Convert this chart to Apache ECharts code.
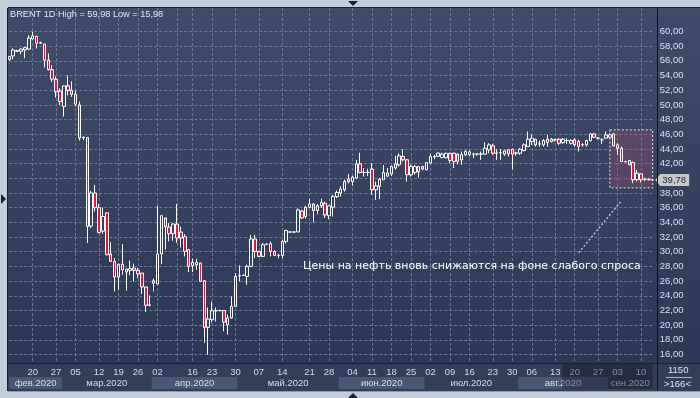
<!DOCTYPE html>
<html>
<head>
<meta charset="utf-8">
<script src="https://cdn.jsdelivr.net/npm/echarts@6/dist/echarts.min.js"></script>
<style>
html,body{margin:0;padding:0;background:#c3cddb;}
#chart{width:700px;height:398px;}
</style>
</head>
<body>
<div id="chart"></div>
<script>
// ---- data ----
const openP  = [56.2,56.67,57.3,57.3,57.5,57.6,59.0,59.35,58.5,58.3,56.1,54.8,53.5,51.9,49.8,52.6,52.0,51.45,50.0,45.5,45.55,33.5,38.0,36.0,32.8,35.3,29.7,28.7,26.56,28.3,27.24,27.46,27.78,27.46,27.1,25.2,22.7,26.05,25.6,29.7,34.6,33.36,32.45,33.77,32.68,32.04,30.27,28.1,28.23,28.46,26.05,19.7,20.75,21.95,21.97,22.0,20.07,20.98,22.56,26.7,26.78,26.64,28.0,31.73,30.04,29.36,31.0,31.1,30.04,29.48,29.5,31.4,32.7,32.68,32.7,35.56,34.8,36.08,36.5,35.62,36.26,36.6,34.9,36.08,37.52,37.99,38.44,39.89,39.56,40.03,41.97,40.78,40.8,41.25,38.44,38.9,39.8,40.3,40.6,41.4,41.84,42.97,42.52,40.48,40.8,40.9,41.6,41.16,42.07,42.9,43.0,42.85,42.8,43.4,43.43,43.3,42.5,43.2,43.6,43.3,43.3,43.3,43.29,43.88,44.42,43.42,43.5,43.29,43.88,43.97,43.42,43.42,43.79,44.33,45.01,45.33,44.69,44.56,45.33,45.01,45.24,45.33,44.88,45.15,44.78,45.24,45.01,44.56,44.56,45.15,46.05,45.47,45.24,45.47,45.6,46.05,44.56,44.1,42.29,42.43,42.15,39.8,40.61,39.89,39.85,39.8];
const closeP = [56.6,57.48,57.4,57.6,57.8,59.1,59.4,58.4,58.4,56.1,54.8,53.5,51.8,50.45,52.6,51.95,51.45,50.1,45.5,45.6,33.44,38.0,36.0,32.6,34.8,29.6,28.7,26.56,28.3,27.5,27.64,27.7,27.46,26.97,25.2,22.7,22.75,25.7,29.7,34.9,33.4,32.45,33.77,31.86,31.86,30.04,28.0,28.55,28.55,25.96,19.7,20.84,21.97,21.97,22.0,20.4,20.98,22.56,26.64,26.78,26.8,28.0,31.73,30.04,29.36,30.95,31.05,30.04,29.5,29.52,31.4,32.9,32.68,32.7,35.7,34.6,36.08,36.5,35.62,36.26,36.7,35.0,36.26,37.52,38.07,38.53,39.56,39.56,40.16,41.97,40.79,40.8,40.82,38.44,38.98,39.89,40.79,40.7,41.6,41.97,43.06,42.52,40.48,41.6,41.6,41.6,41.25,42.15,42.97,42.95,43.43,43.3,43.4,42.43,42.3,42.3,43.25,43.65,43.25,43.28,43.32,43.32,44.1,44.56,43.42,43.45,43.52,43.74,43.33,43.29,43.45,43.97,44.56,45.33,45.47,44.56,44.7,45.15,44.88,45.33,45.25,44.78,45.33,45.16,45.15,44.56,44.33,44.6,45.15,46.05,45.6,45.5,45.25,45.92,45.92,44.42,44.1,42.29,42.25,41.84,39.8,40.7,39.8,39.85,39.8,39.78];
const lowP   = [56.0,56.2,57.2,56.9,56.35,57.5,58.9,57.7,58.3,55.1,54.7,53.1,51.0,50.0,48.4,51.3,51.1,49.8,45.14,45.2,31.2,33.2,35.5,32.5,32.45,29.5,28.6,24.6,24.83,26.87,24.7,26.8,25.96,26.42,24.25,21.8,22.56,24.6,25.6,28.3,30.3,31.4,31.5,31.2,30.58,29.36,27.24,27.24,27.55,25.9,17.58,15.98,20.38,20.5,21.9,19.16,18.7,20.9,22.5,25.96,26.7,25.5,28.0,29.14,29.3,29.3,30.9,29.36,29.4,29.1,29.14,31.1,32.6,32.6,32.68,34.45,34.5,35.95,33.99,35.1,35.95,34.6,34.45,34.8,37.3,37.5,38.2,39.3,38.98,40.0,40.7,40.24,40.3,37.76,37.07,37.17,39.8,40.2,40.3,41.16,41.6,42.3,39.56,40.24,40.5,40.1,41.1,41.1,42.0,42.6,42.9,42.7,42.7,42.07,41.4,41.9,41.84,43.06,42.97,42.74,43.06,42.52,43.2,43.42,43.2,42.52,42.52,43.06,42.97,41.25,43.06,43.2,43.65,44.3,44.56,44.33,44.33,44.33,44.33,44.9,45.0,44.56,44.7,44.69,44.6,44.33,43.65,44.3,44.33,45.01,45.5,45.3,44.69,45.4,45.47,44.33,43.2,42.2,42.15,41.8,39.34,39.57,39.43,39.6,39.7,39.7];
const highP  = [56.7,57.7,57.5,57.7,57.9,59.5,59.98,59.4,58.6,58.3,57.0,55.4,53.85,52.27,52.6,54.0,53.2,52.0,50.45,45.7,45.6,38.3,39.1,36.5,36.0,35.3,31.3,29.14,28.35,31.05,27.7,28.8,28.37,27.78,27.1,25.2,24.05,26.33,36.26,35.0,34.7,33.9,33.9,36.5,33.44,32.4,30.4,29.05,29.05,28.5,26.1,22.4,23.24,22.4,22.1,22.0,21.43,23.9,27.1,28.14,26.9,28.23,32.3,32.3,30.1,31.2,31.1,31.4,30.2,29.7,31.6,32.99,32.75,32.75,35.9,35.7,36.26,37.2,36.6,36.5,37.2,36.85,36.3,37.75,38.34,38.9,39.8,40.6,40.34,42.5,43.5,41.4,41.3,42.07,39.56,40.03,41.8,41.4,41.7,43.06,43.4,43.97,42.6,41.84,41.8,41.7,41.7,42.2,43.33,43.2,43.5,43.5,43.5,43.5,43.5,43.4,43.65,43.88,43.8,43.5,43.42,43.65,44.88,44.78,44.69,43.97,43.97,43.88,43.97,44.0,43.65,44.1,44.78,46.37,45.92,45.4,45.15,45.33,45.92,45.5,45.4,45.47,45.5,45.47,45.3,45.47,45.24,44.8,45.24,46.15,46.15,45.6,45.47,46.37,46.15,46.15,44.78,44.33,42.4,42.52,42.29,41.16,40.7,40.1,40.0,39.9];

// weekly tick labels (day of month) and the bar they sit on
const tickBar  = [6,12,17,23,28,33,38,47,52,58,64,70,77,82,88,93,98,103,108,113,118,124,129,134,140,145,151,156,162];
const tickText = ['20','27','05','12','19','26','02','16','23','30','07','14','21','28','04','11','18','25','02','09','16','23','30','06','13','20','27','03','10'];
const extraGridBar = [43];

// month bands (bar positions of month boundaries)
const monthNames = ['фев.2020','мар.2020','апр.2020','май.2020','июн.2020','июл.2020','авг.2020','сен.2020'];
const monthStart = [0,13.5,36.5,58.5,84.5,106.5,130.5,153.5];
const monthEnd   = [13.5,36.5,58.5,84.5,106.5,130.5,153.5,166.1];

// highlighted region & annotation
const boxBars = [154,165];
const boxPrice = [38.7,46.6];
const pointerFrom = [146,29.86];
const pointerTo = [157,36.94];
const noteText = 'Цены на нефть вновь снижаются на фоне слабого спроса';
const scrollFromBar = 141.8;

// ---- build ----
const N = openP.length;
const categories = [];
for (let i=0;i<N;i++) categories.push('');
tickBar.forEach((b,i)=>{categories[b]=tickText[i];});
const gridBars = new Set(tickBar.concat(extraGridBar));
const candles = openP.map((o,i)=>[o,closeP[i],lowP[i],highP[i]]);
const fmt = v => v.toFixed(2).replace('.',',');
const hi = Math.max.apply(null,highP), lo = Math.min.apply(null,lowP);
const lastClose = closeP[N-1];

const FONT = 'Liberation Sans';
const gridX = {left:9.3, width:643.4};

const chart = echarts.init(document.getElementById('chart'), null, {renderer:'canvas'});
const option = {
  animation:false,
  backgroundColor:'#c3cddb',
  title:{
    text:'BRENT 1D High = '+fmt(hi)+' Low = '+fmt(lo),
    left:10, top:10, padding:0,
    textStyle:{color:'#e2e8f2', fontSize:9.2, fontWeight:'normal', fontFamily:FONT}
  },
  graphic:[
    {type:'rect', z:-10, shape:{x:8,y:8,width:692,height:355},
      style:{fill:new echarts.graphic.LinearGradient(0,0,0,1,[{offset:0,color:'#3f4b68'},{offset:1,color:'#2c3855'}])}},
    {type:'rect', z:-10, shape:{x:8,y:363,width:692,height:28}, style:{fill:'#323e5a'}},
    {type:'line', z:50, shape:{x1:8,y1:7.5,x2:700,y2:7.5}, style:{stroke:'#1b2130',lineWidth:1}},
    {type:'line', z:50, shape:{x1:7.5,y1:8,x2:7.5,y2:391}, style:{stroke:'#1b2130',lineWidth:1}},
    {type:'line', z:50, shape:{x1:657.5,y1:8,x2:657.5,y2:391}, style:{stroke:'#0f131c',lineWidth:1}},
    {type:'line', z:50, shape:{x1:8,y1:363.5,x2:700,y2:363.5}, style:{stroke:'#1b2130',lineWidth:1}},
    {type:'line', z:50, shape:{x1:8,y1:391.5,x2:700,y2:391.5}, style:{stroke:'#8e9aae',lineWidth:1}},
    {type:'polygon', z:50, shape:{points:[[348,1],[358,1],[353,6]]}, style:{fill:'#1b2130'}},
    {type:'polygon', z:50, shape:{points:[[348,398],[358,398],[353,393]]}, style:{fill:'#1b2130'}},
    {type:'polygon', z:50, shape:{points:[[1,194],[1,204],[6,199]]}, style:{fill:'#1b2130'}},
    {type:'text', z:50, left:668, top:365, style:{text:'1150', fill:'#e2e8f2', font:'9.5px "Liberation Sans"'}},
    {type:'line', z:50, shape:{x1:666,y1:377.5,x2:692,y2:377.5}, style:{stroke:'#aab4c4',lineWidth:1}},
    {type:'text', z:50, left:664, top:379, style:{text:'>166<', fill:'#e2e8f2', font:'9.5px "Liberation Sans"'}},
    {type:'text', z:50, left:303, top:261, style:{text:noteText, fill:'#ffffff', font:'11px "DejaVu Sans"'}}
  ],
  grid:[
    {left:gridX.left, width:gridX.width, top:8, height:355},
    {left:gridX.left, width:gridX.width, top:31.5, height:323},
    {left:gridX.left, width:gridX.width, top:363, height:28}
  ],
  xAxis:[
    {type:'category', gridIndex:0, data:categories, boundaryGap:false,
      axisLine:{show:false}, axisTick:{show:false},
      axisLabel:{interval:(i,v)=>v!=='', color:'#d3dbe8', fontSize:9.5, fontFamily:FONT, margin:4},
      splitLine:{show:true, interval:(i)=>gridBars.has(i), lineStyle:{color:'#687898', type:[3,2], width:1}}},
    {type:'category', gridIndex:1, data:categories, boundaryGap:false, show:false},
    {type:'value', gridIndex:2, min:0, max:N-1, show:false}
  ],
  yAxis:[
    {type:'value', gridIndex:0, show:false},
    {type:'value', gridIndex:1, position:'right', min:16, max:60, interval:2,
      axisLine:{show:false}, axisTick:{show:false},
      axisLabel:{color:'#d8e0ee', fontSize:9.5, fontFamily:FONT, margin:7,
        formatter:v => Math.abs(v-lastClose)<0.6 ? '' : fmt(v)},
      splitLine:{show:true, lineStyle:{color:'#687898', type:[3,2], width:1}}},
    {type:'value', gridIndex:2, min:0, max:1, show:false}
  ],
  series:[
    {type:'candlestick', xAxisIndex:1, yAxisIndex:1, data:candles, barWidth:3, clip:false,
      itemStyle:{color:'#34405d', color0:'#e4173e', borderColor:'#ffffff', borderColor0:'#ffffff', borderColorDoji:'#ffffff', borderWidth:1},
      markArea:{silent:true,
        itemStyle:{color:'rgba(165,75,115,0.32)', borderColor:'#e6e6ee', borderWidth:1, borderType:[2,2]},
        data:[[{coord:[boxBars[0],boxPrice[1]]},{coord:[boxBars[1],boxPrice[0]]}]]},
      markLine:{silent:true, symbol:['none','none'], label:{show:false},
        data:[
          [{coord:pointerFrom, lineStyle:{color:'#c9d0de', type:[2,2], width:1.3}},{coord:pointerTo}]
        ]},
      markPoint:{silent:true, z:8,
        symbol:'path://M0,6 L5,0 L34,0 L34,12 L5,12 Z', symbolKeepAspect:false,
        symbolSize:[34,12], symbolOffset:[19.5,0],
        itemStyle:{color:'#c8c8c8'},
        label:{show:true, position:'inside', offset:[2,0], formatter:()=>fmt(lastClose),
          color:'#1c2233', fontSize:9.5, fontFamily:FONT},
        data:[{coord:[N-1,lastClose]}]}
    },
    {type:'line', xAxisIndex:2, yAxisIndex:2, data:[], clip:false, silent:true,
      markArea:{silent:true, z:1,
        label:{show:true, position:'inside', color:'#d6deea', fontSize:9.5, fontFamily:FONT},
        data:monthNames.map((m,i)=>[
          {name:m, coord:[monthStart[i],0.07], itemStyle:{color: i%2===0 ? '#4a5877' : 'rgba(0,0,0,0)'}},
          {coord:[monthEnd[i],0.5]}
        ])}},
    {type:'line', xAxisIndex:2, yAxisIndex:2, data:[], clip:false, silent:true, z:5,
      markArea:{silent:true, z:5, label:{show:false},
        itemStyle:{color:'rgba(18,22,36,0.42)'},
        data:[[{coord:[scrollFromBar,0.07]},{coord:[166.1,1]}]]}}
  ]
};
chart.setOption(option);
</script>
</body>
</html>
